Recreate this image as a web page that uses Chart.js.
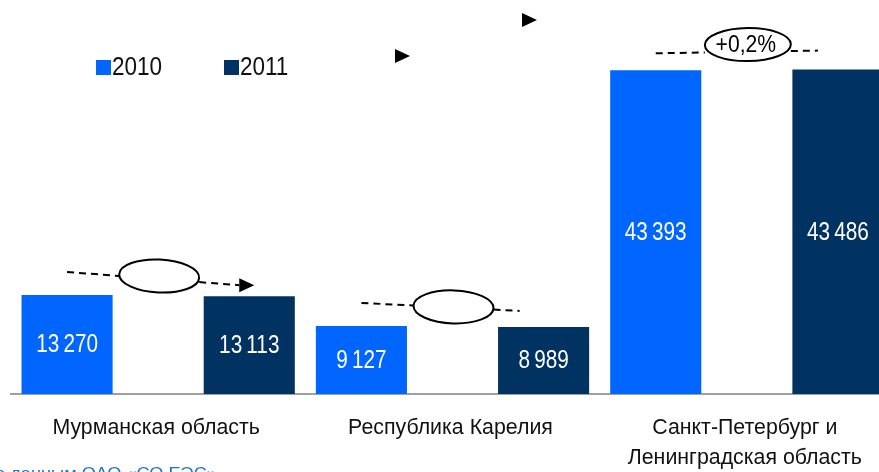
<!DOCTYPE html>
<html>
<head>
<meta charset="utf-8">
<script src="https://cdn.jsdelivr.net/npm/chart.js@4.4.1/dist/chart.umd.min.js"></script>
<style>
    html, body { margin: 0; padding: 0; background: #fff; overflow: hidden; }
    #wrap { position: relative; width: 894px; height: 472px; }
</style>
</head>
<body>
<div id="wrap"><canvas id="chart" width="894" height="472"></canvas></div>
<script>
// D A T A
const regions = ["Мурманская область", "Республика Карелия", ["Санкт-Петербург и", "Ленинградская область"]];
const years = ["2010", "2011"];
const values2010 = [13270, 9127, 43393];
const values2011 = [13113, 8989, 43486];
const changeLabels = ["", "", "+0,2%"];
const source = "По данным ОАО «СО ЕЭС»";

const FONT = "'Liberation Sans', Arial, sans-serif";
const colors = ["#0066FF", "#003262"];

function fmt(v) {
    return String(v).replace(/\B(?=(\d{3})+(?!\d))/g, "\u2009");
}

// text squeezed horizontally (arial narrow look)
function narrowText(ctx, text, x, y, size, sx, align) {
    ctx.save();
    ctx.font = size + "px " + FONT;
    ctx.textAlign = align || "center";
    ctx.translate(x, y);
    ctx.scale(sx, 1);
    ctx.fillText(text, 0, 0);
    ctx.restore();
}

function arrowHead(ctx, x, y) {
    ctx.beginPath();
    ctx.moveTo(x, y - 7);
    ctx.lineTo(x + 15, y);
    ctx.lineTo(x, y + 7);
    ctx.closePath();
    ctx.fillStyle = "#000";
    ctx.fill();
}

// dashed line offsets over the bars: [lift over bar1, lift over bar2, end x before bar2 center]
const dashCfg = [[23, 11, 10], [23, 16, 24], [17, 19, 20]];

const decorations = {
    id: "decorations",
    afterDatasetsDraw(chart) {
        const ctx = chart.ctx;
        const m0 = chart.getDatasetMeta(0);
        const m1 = chart.getDatasetMeta(1);
        const xs = chart.scales.x;

        // values in bars
        ctx.save();
        ctx.fillStyle = "#fff";
        ctx.textBaseline = "middle";
        [m0, m1].forEach((meta, di) => {
            meta.data.forEach((bar, i) => {
                narrowText(ctx, fmt(chart.data.datasets[di].data[i]), bar.x, (bar.y + bar.base) / 2 + 1, 25, 0.83);
            });
        });
        ctx.restore();

        // category labels
        ctx.save();
        ctx.fillStyle = "#111";
        ctx.textBaseline = "middle";
        chart.data.labels.forEach((lab, i) => {
            const lines = Array.isArray(lab) ? lab : [lab];
            lines.forEach((t, k) => {
                narrowText(ctx, t, xs.getPixelForValue(i) - 2, xs.top + 34 + k * 30, 22, 0.97);
            });
        });
        ctx.restore();

        // dashed lines + ellipses
        ctx.save();
        ctx.strokeStyle = "#000";
        ctx.lineWidth = 2;
        m0.data.forEach((b0, i) => {
            const b1 = m1.data[i];
            const c = dashCfg[i];
            const x0 = b0.x, y0 = b0.y - c[0];
            const x1 = b1.x - c[2], y1 = b1.y - c[1];
            const slope = (y1 - y0) / (x1 - x0);
            const cx = xs.getPixelForValue(i) + 1;
            const cy = Math.min(b0.y, b1.y) - (i === 2 ? 25 : 19);
            const rx = i === 2 ? 43 : 40, ry = 16.5;
            ctx.setLineDash([7, 5]);
            ctx.beginPath();
            ctx.moveTo(x0, y0);
            ctx.lineTo(cx - rx, y0 + slope * (cx - rx - x0));
            ctx.moveTo(cx + rx, y0 + slope * (cx + rx - x0));
            ctx.lineTo(x1, y1);
            ctx.stroke();
            ctx.setLineDash([]);
            ctx.beginPath();
            ctx.ellipse(cx, cy, rx, ry, Math.atan(slope) * 0.6, 0, Math.PI * 2);
            ctx.fillStyle = "#fff";
            ctx.fill();
            ctx.stroke();
            if (changeLabels[i]) {
                ctx.fillStyle = "#000";
                ctx.textBaseline = "middle";
                narrowText(ctx, changeLabels[i], cx - 2, cy + 1, 24, 0.88);
            }
            if (i === 0) arrowHead(ctx, x1, y1);
        });

        // stray arrowheads
        arrowHead(ctx, 395, 56);
        arrowHead(ctx, 522, 20);
        ctx.restore();

        // legend
        ctx.save();
        ctx.textBaseline = "middle";
        const lx = [96, 224];
        chart.data.datasets.forEach((ds, di) => {
            ctx.fillStyle = ds.backgroundColor;
            ctx.fillRect(lx[di], 60, 15, 15);
            ctx.fillStyle = "#111";
            narrowText(ctx, ds.label, lx[di] + 16, 68, 25, 0.9, "left");
        });
        ctx.restore();

        // source note
        ctx.save();
        ctx.fillStyle = "#1A73D9";
        ctx.textBaseline = "alphabetic";
        narrowText(ctx, source, -18, 479, 17, 1.07, "left");
        ctx.restore();
    }
};

new Chart(document.getElementById("chart"), {
    type: "bar",
    data: {
        labels: regions,
        datasets: [
            { label: years[0], data: values2010, backgroundColor: colors[0] },
            { label: years[1], data: values2011, backgroundColor: colors[1] },
        ],
    },
    options: {
        responsive: false,
        animation: false,
        layout: { padding: { left: 11, right: 0, top: 21, bottom: 0 } },
        datasets: {
            bar: { categoryPercentage: 1.238, barPercentage: 0.5 },
        },
        plugins: {
            legend: { display: false },
            tooltip: { enabled: false },
        },
        scales: {
            x: {
                grid: { display: false, drawTicks: false },
                border: { display: true, color: "#A0A0A0", width: 2 },
                ticks: { display: false },
                afterFit(scale) { scale.height = 78; },
            },
            y: {
                display: false,
                min: 0,
                max: 50000,
            },
        },
    },
    plugins: [decorations],
});
</script>
</body>
</html>
